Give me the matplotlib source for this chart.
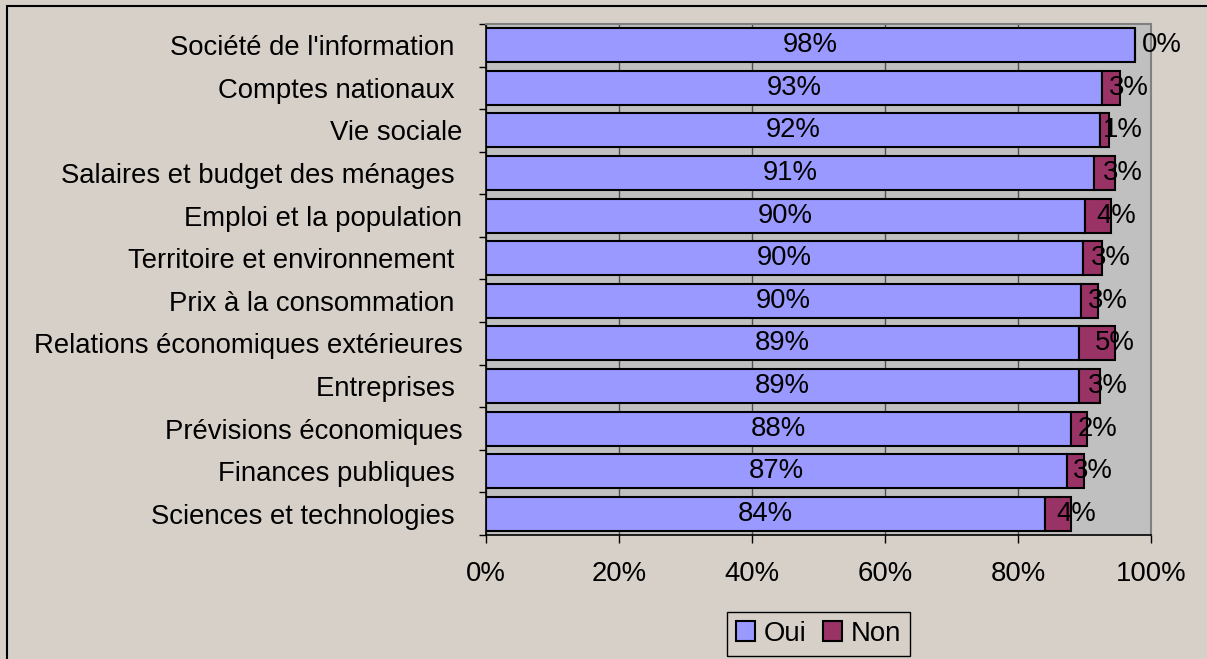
import matplotlib
matplotlib.use("Agg")
import matplotlib.pyplot as plt
from matplotlib.patches import Rectangle
from matplotlib.ticker import FuncFormatter

categories = ["Société de l'information ", "Comptes nationaux ", "Vie sociale",
              "Salaires et budget des ménages ", "Emploi et la population",
              "Territoire et environnement ", "Prix à la consommation ",
              "Relations économiques extérieures", "Entreprises ",
              "Prévisions économiques", "Finances publiques ",
              "Sciences et technologies "]
oui = [97.6, 92.7, 92.4, 91.4, 90.1, 89.8, 89.5, 89.2, 89.2, 88.0, 87.3, 84.1]
non = [0.0, 2.6, 1.3, 3.2, 3.9, 2.9, 2.6, 5.4, 3.2, 2.4, 2.6, 3.8]
xticks = [0, 20, 40, 60, 80, 100]

plt.rcParams['font.family'] = ['Liberation Sans', 'DejaVu Sans']
FS = 19.8

W, H = 1207, 659
fig = plt.figure(figsize=(W / 100, H / 100), dpi=100)
fig.patch.set_facecolor('#D6D0C9')
ax = fig.add_axes([486 / W, 1 - 535 / H, (1151 - 486) / W, (535 - 24) / H])
ax.set_facecolor('#C0C0C0')

n = len(categories)
y = list(range(n))
ax.barh(y, oui, height=0.8, color='#9999FF', edgecolor='black', linewidth=1.5, label='Oui', zorder=3)
ax.barh(y, non, left=oui, height=0.8, color='#993366', edgecolor='black', linewidth=1.5, label='Non', zorder=3)

for i in range(n):
    ax.text(oui[i] / 2, i, f"{oui[i]:.0f}%", ha='center', va='center', fontsize=FS, zorder=4)
    off = 1.0 if non[i] == 0 else -0.3
    ax.text(oui[i] + non[i] / 2 + off, i, f"{non[i]:.0f}%", ha='left', va='center', fontsize=FS, zorder=4)

ax.set_xlim(0, 100)
ax.set_ylim(n - 0.5, -0.5)
ax.set_xticks(xticks)
ax.xaxis.set_major_formatter(FuncFormatter(lambda v, p: f"{v:.0f}%"))
ax.set_yticks([i + 0.5 for i in range(-1, n)], minor=False)
ax.set_yticklabels([])
ax.set_yticks(y, minor=True)
ax.set_yticklabels(categories, minor=True)
ax.tick_params(axis='y', which='minor', length=0, pad=17, labelsize=FS)
ax.tick_params(axis='y', which='major', length=5, width=1, direction='out', color='black')
ax.tick_params(axis='x', length=6, width=1, direction='out', pad=13, labelsize=FS, color='black')
ax.grid(axis='x', color='#505050', linewidth=1, zorder=1)

for side in ['top', 'right']:
    ax.spines[side].set_color('#808080')
    ax.spines[side].set_linewidth(1.5)
for side in ['left', 'bottom']:
    ax.spines[side].set_color('black')
    ax.spines[side].set_linewidth(1.2)

leg = ax.legend(loc='upper center', bbox_to_anchor=(0.5, -0.15), ncol=2, fontsize=FS,
                frameon=True, fancybox=False, edgecolor='black', facecolor='#D6D0C9',
                handlelength=0.7, handleheight=0.7, handletextpad=0.3, columnspacing=0.6,
                borderpad=0.33, borderaxespad=0, framealpha=1)
leg.get_frame().set_linewidth(1.0)

fig.patches.append(Rectangle((7 / W, -0.1), 1.2, 1 - 6 / H + 0.1, transform=fig.transFigure,
                             fill=False, edgecolor='black', linewidth=1.5, zorder=10))

fig.savefig('out.png', dpi=100, facecolor=fig.get_facecolor())
